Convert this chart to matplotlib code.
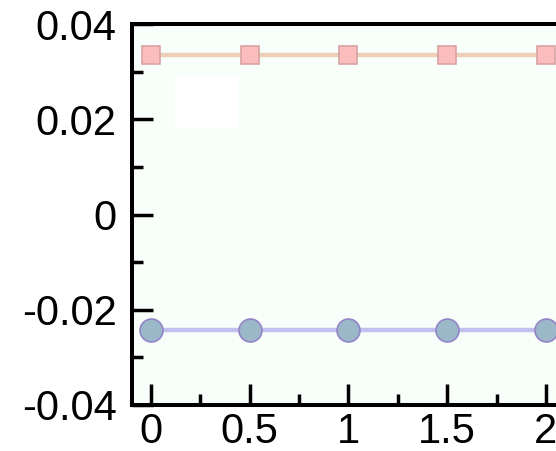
import matplotlib
matplotlib.use("Agg")
import matplotlib.pyplot as plt
from matplotlib.ticker import MultipleLocator
from matplotlib.patches import Rectangle

plt.rcParams['font.family'] = ['Liberation Sans', 'DejaVu Sans']

# dados
x = [0, 0.5, 1, 1.5, 2]
serie_a = [0.0335, 0.0335, 0.0335, 0.0335, 0.0335]
serie_b = [-0.0243, -0.0243, -0.0243, -0.0243, -0.0243]

fig = plt.figure(figsize=(5.56, 4.51), dpi=100)
fig.patch.set_facecolor("white")
ax = fig.add_axes([132/556, 46/451, 560/556, 381/451])
ax.set_facecolor("#f8fefa")

ax.plot(x, serie_a, color="#eccfb6", lw=3.2, marker="s", ms=13.5,
        mfc="#fbbdbd", mec="#d9a3a3", mew=1.2, zorder=3)
ax.plot(x, serie_b, color="#c2c0ee", lw=3.2, marker="o", ms=16.5,
        mfc="#9bb8c8", mec="#9484c8", mew=1.2, zorder=3)

# caixa branca (legenda vazia)
ax.add_patch(Rectangle(((175-132)/560, (405-128)/381), 63/560, 52/381,
                       transform=ax.transAxes, facecolor="white",
                       edgecolor="none", zorder=2))

ax.set_xlim(-0.096, -0.096 + 560/197.5)
ax.set_ylim(-0.04, 0.04)
ax.xaxis.set_major_locator(MultipleLocator(0.5))
ax.xaxis.set_minor_locator(MultipleLocator(0.25))
ax.yaxis.set_major_locator(MultipleLocator(0.02))
ax.yaxis.set_minor_locator(MultipleLocator(0.01))
ax.xaxis.set_major_formatter(plt.FuncFormatter(lambda v, p: f"{v:g}"))
ax.yaxis.set_major_formatter(plt.FuncFormatter(lambda v, p: "0" if abs(v) < 1e-9 else f"{v:.2f}"))

for s in ax.spines.values():
    s.set_linewidth(2.9)
ax.tick_params(which="both", direction="in", width=2.5, labelsize=30,
               top=False, right=False)
ax.tick_params(which="major", length=15)
ax.tick_params(which="minor", length=8)
ax.tick_params(axis="y", pad=11)
ax.tick_params(axis="x", pad=5)

fig.savefig("out.png", dpi=100)
